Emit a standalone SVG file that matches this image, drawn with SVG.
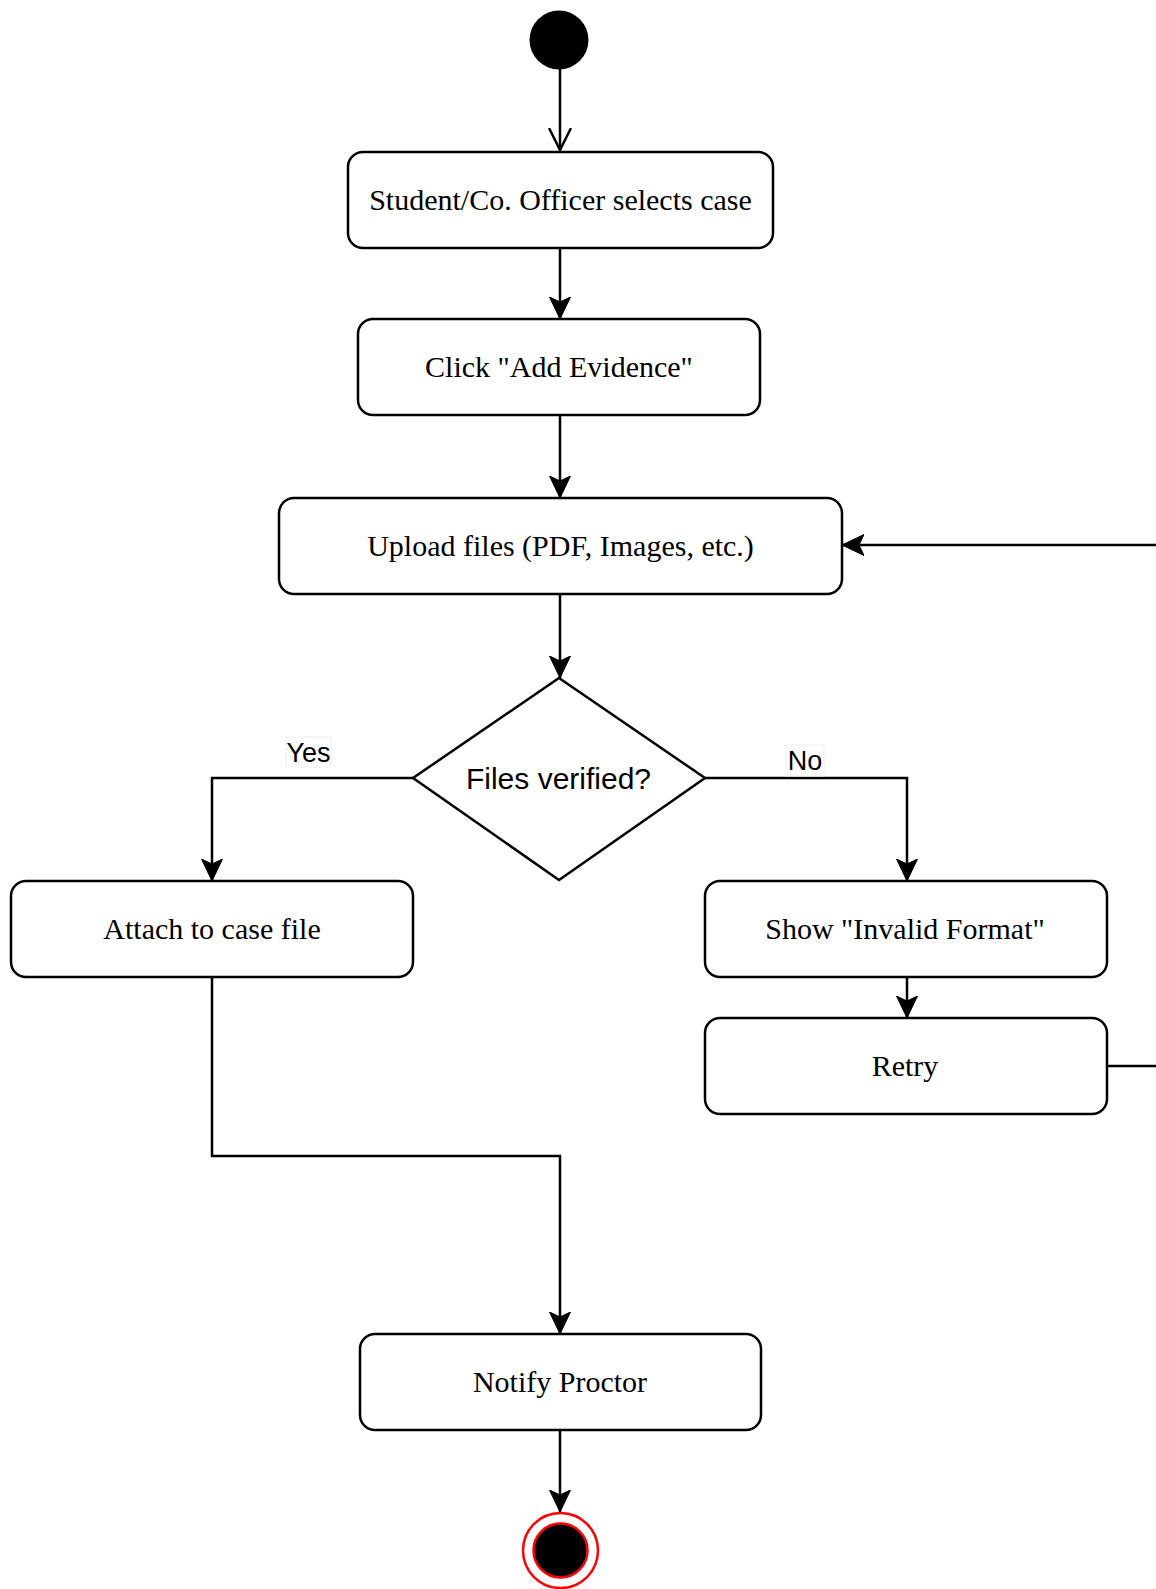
<svg xmlns="http://www.w3.org/2000/svg" width="1156" height="1589" viewBox="0 0 1156 1589">
  <style>
    .box { fill: #ffffff; stroke: #000000; stroke-width: 2.5; }
    .serif { font-family: "Liberation Serif", "Times New Roman", serif; font-size: 30px; fill: #000000; text-anchor: middle; }
    .sans { font-family: "Liberation Sans", Arial, sans-serif; fill: #000000; text-anchor: middle; }
    .edge { fill: none; stroke: #000000; stroke-width: 2.5; }
    .lblbg { fill: #ffffff; stroke: #eeeeee; stroke-width: 1; }
  </style>
  <defs>
    <marker id="block" viewBox="0 -11 23 22" markerWidth="23" markerHeight="22" refX="22" refY="0" orient="auto" markerUnits="userSpaceOnUse">
      <path d="M22,0 L0,-10.5 L5,0 L0,10.5 Z" fill="#000000" stroke="#000000" stroke-width="1"/>
    </marker>
    <marker id="open" viewBox="0 -12 24 24" markerWidth="24" markerHeight="24" refX="22" refY="0" orient="auto" markerUnits="userSpaceOnUse">
      <path d="M0,-11 L22,0 L0,11" fill="none" stroke="#000000" stroke-width="2.5"/>
    </marker>
  </defs>

  <rect width="1156" height="1589" fill="#ffffff"/>

  <!-- connectors -->
  <g id="connectors">
    <path class="edge" d="M560,69 V150" marker-end="url(#open)"/>
    <path class="edge" d="M560,248 V319" marker-end="url(#block)"/>
    <path class="edge" d="M560,415 V498" marker-end="url(#block)"/>
    <path class="edge" d="M560,594 V678" marker-end="url(#block)"/>
    <path class="edge" d="M413,778 H212 V881" marker-end="url(#block)"/>
    <path class="edge" d="M705,778 H907 V881" marker-end="url(#block)"/>
    <path class="edge" d="M907,978 V1018" marker-end="url(#block)"/>
    <path class="edge" d="M1107,1066 H1185 V545 H842" marker-end="url(#block)"/>
    <path class="edge" d="M212,978 V1156 H560 V1334" marker-end="url(#block)"/>
    <path class="edge" d="M560,1430 V1512" marker-end="url(#block)"/>
    <g id="label-yes">
      <rect class="lblbg" x="286" y="737" width="45" height="30"/>
      <text class="sans" x="308.5" y="762" font-size="27">Yes</text>
    </g>
    <g id="label-no">
      <rect class="lblbg" x="786" y="745" width="38" height="31"/>
      <text class="sans" x="805" y="770" font-size="27">No</text>
    </g>
  </g>

  <!-- nodes -->
  <g id="start">
    <circle cx="559" cy="40" r="29.5" fill="#000000"/>
  </g>

  <g id="select-case">
    <rect class="box" x="348" y="152" width="425" height="96" rx="15" ry="15"/>
    <text class="serif" x="560.5" y="210">Student/Co. Officer selects case</text>
  </g>

  <g id="add-evidence">
    <rect class="box" x="358" y="319" width="402" height="96" rx="15" ry="15"/>
    <text class="serif" x="559" y="377">Click "Add Evidence"</text>
  </g>

  <g id="upload-files">
    <rect class="box" x="279" y="498" width="563" height="96" rx="15" ry="15"/>
    <text class="serif" x="560.5" y="556">Upload files (PDF, Images, etc.)</text>
  </g>

  <g id="files-verified">
    <polygon class="box" points="559,678 705,778 559,880 413,778"/>
    <text class="sans" x="558.5" y="789" font-size="30">Files verified?</text>
  </g>

  <g id="attach">
    <rect class="box" x="11" y="881" width="402" height="96" rx="15" ry="15"/>
    <text class="serif" x="212" y="939">Attach to case file</text>
  </g>

  <g id="invalid-format">
    <rect class="box" x="705" y="881" width="402" height="96" rx="15" ry="15"/>
    <text class="serif" x="905" y="939">Show "Invalid Format"</text>
  </g>

  <g id="retry">
    <rect class="box" x="705" y="1018" width="402" height="96" rx="15" ry="15"/>
    <text class="serif" x="905" y="1076">Retry</text>
  </g>

  <g id="notify-proctor">
    <rect class="box" x="360" y="1334" width="401" height="96" rx="15" ry="15"/>
    <text class="serif" x="560" y="1392">Notify Proctor</text>
  </g>

  <g id="end">
    <circle cx="560.5" cy="1550.5" r="37.5" fill="#ffffff" stroke="#ff0000" stroke-width="2.5"/>
    <circle cx="560.5" cy="1550.5" r="27" fill="#000000" stroke="#ff0000" stroke-width="2.5"/>
  </g>
</svg>
